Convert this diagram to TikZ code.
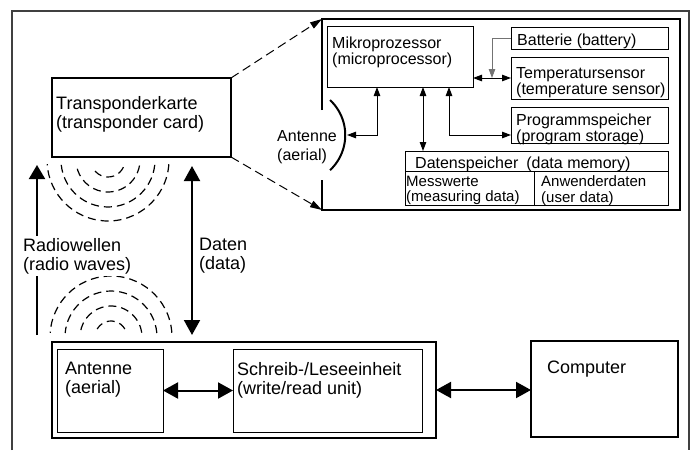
\documentclass[tikz,border=0pt]{standalone}
\usepackage{fontspec}
\setmainfont{Liberation Sans}
\usetikzlibrary{arrows.meta}
\begin{document}
\begin{tikzpicture}[x=1pt,y=-1pt,
  box/.style={draw, line width=1pt, inner sep=0pt, outer sep=0pt, anchor=north west},
  heavybox/.style={box, line width=2pt},
  lbl/.style={anchor=north west, inner sep=0pt, align=left, font=\fontsize{18}{19}\selectfont},
  slbl/.style={lbl, font=\fontsize{16}{16}\selectfont},
  tlbl/.style={lbl, font=\fontsize{15}{15.5}\selectfont},
  wave/.style={dash pattern=on 8pt off 5pt, line width=1.2pt},
  link/.style={line width=1pt, {Triangle[width=6.5pt,length=9pt]}-{Triangle[width=6.5pt,length=9pt]}},
  feed/.style={line width=0.8pt, draw=black!55, -{Triangle[width=6.5pt,length=9pt]}},
  bus/.style={line width=2pt, {Triangle[width=16pt,length=15pt]}-{Triangle[width=16pt,length=15pt]}},
  onebus/.style={line width=2pt, -{Triangle[width=16pt,length=14pt]}},
  zoomlink/.style={line width=1pt, dash pattern=on 9pt off 5pt, -{Triangle[width=7pt,length=12pt]}},
  frame/.style={line width=1.5pt, draw=black!75}]
\useasboundingbox (0,0) rectangle (696,450);

% outer frame (open at the bottom)
\draw[frame] (12,450) -- (12,11) -- (689,11) -- (689,450);

% ---------- transponder card ----------
\node[heavybox, minimum width=179pt, minimum height=79pt] (tcard) at (52,78) {};
\node[lbl] (tcardtxt) at (56,96) {Transponderkarte\\(transponder card)};

% ---------- enlarged card interior ----------
\node[inner sep=0pt, outer sep=0pt, anchor=north west, minimum width=358pt, minimum height=191pt] (detail) at (322,19) {};
\draw[line width=2.5pt] (detail.west |- 0,110) -- (detail.north west) -- (detail.north east)
  -- (detail.south east) -- (detail.south west) -- (detail.west |- 0,180);

\draw[zoomlink] (tcard.north east) -- (detail.north west);
\draw[zoomlink] (tcard.south east) -- (detail.south west);

\node[box, minimum width=146pt, minimum height=61pt] (mikro) at (327,26) {};
\node[slbl] (mikrotxt) at (332,36.5) {Mikroprozessor\\(microprocessor)};

\node[box, minimum width=157pt, minimum height=22pt] (batt) at (511,27) {};
\node[slbl] (batttxt) at (517,33.5) {Batterie (battery)};

\node[box, minimum width=157pt, minimum height=42pt] (temp) at (511,57) {};
\node[slbl] (temptxt) at (516,67.5) {Temperatursensor\\(temperature sensor)};

\node[box, minimum width=157pt, minimum height=36pt] (prog) at (511,107) {};
\node[slbl] (progtxt) at (516,113.5) {Programmspeicher\\(program storage)};

\node[box, minimum width=263pt, minimum height=54pt] (ds) at (405,151) {};
\draw[line width=1pt] (ds.west |- 0,171) -- (ds.east |- 0,171);
\draw[line width=1pt] (534,171) -- (ds.south -| 534,0);
\node[slbl] (dstxt) at (415,156.5) {Datenspeicher\hspace{0.5em}(data memory)};
\node[tlbl] (mwtxt) at (406,175.5) {Messwerte\\(measuring data)};
\node[tlbl] (udtxt) at (541,175.5) {Anwenderdaten\\(user data)};

% card aerial
\draw[line width=2pt] (330,100) arc[start angle=-47, end angle=47, radius=48];
\node[lbl, font=\fontsize{16}{19}\selectfont] (anttxt) at (277,130.5) {Antenne\\(aerial)};
\coordinate (antc) at (347,135);

% internal connections
\coordinate (m1) at ([xshift=50pt]mikro.south west);
\coordinate (m2) at ([xshift=96pt]mikro.south west);
\coordinate (m3) at ([xshift=122pt]mikro.south west);
\draw[link] (antc) -| (m1);
\draw[link] (m2) -- (m2 |- ds.north);
\draw[link] (m3) |- ([yshift=-10pt]prog.west);
\draw[link] (temp.west -| mikro.east) -- (temp.west);
\coordinate (bj) at (492,78);
\draw[feed] (batt.west) -| (bj);

% ---------- radio waves ----------
\foreach \r/\a in {17/25, 32/10, 47/6, 61/4}
  \draw[wave] (108,160) ++(\a:\r) arc[start angle=\a, end angle=180-\a, radius=\r];
\foreach \r/\a in {16/30, 31/8, 46/5, 61/4}
  \draw[wave] (111,337) ++(-\a:\r) arc[start angle=-\a, end angle=-180+\a, radius=\r];

\coordinate (rwbot) at (37,335);
\coordinate (rwtop) at (37,165);
\draw[onebus] (rwbot) -- (rwtop);
\node[lbl, fill=white, inner sep=2pt] (rwtxt) at (21,236) {Radiowellen\\(radio waves)};

% ---------- reader ----------
\node[heavybox, minimum width=384pt, minimum height=96pt] (reader) at (52,342) {};
\node[box, minimum width=106pt, minimum height=83pt] (rant) at (57,349) {};
\node[lbl] (ranttxt) at (65,362) {Antenne\\(aerial)};
\node[box, minimum width=189pt, minimum height=83pt] (rw) at (233,349) {};
\node[lbl] (rwbtxt) at (237,362) {Schreib-/Leseeinheit\\(write/read unit)};

\node[heavybox, minimum width=147pt, minimum height=96pt] (comp) at (531,341) {};
\node[lbl] (comptxt) at (547,361) {Computer};

% data path between card and reader
\coordinate (dtop) at ([xshift=140pt,yshift=-9pt]tcard.south west);
\draw[bus] (dtop) -- ([yshift=7pt]reader.north west -| dtop);
\node[lbl] (dtxt) at (199,238) {Daten\\(data)};

\draw[bus] (rant.east) -- (rw.west);
\draw[bus] (reader.east) -- (reader.east -| comp.west);
\end{tikzpicture}
\end{document}
